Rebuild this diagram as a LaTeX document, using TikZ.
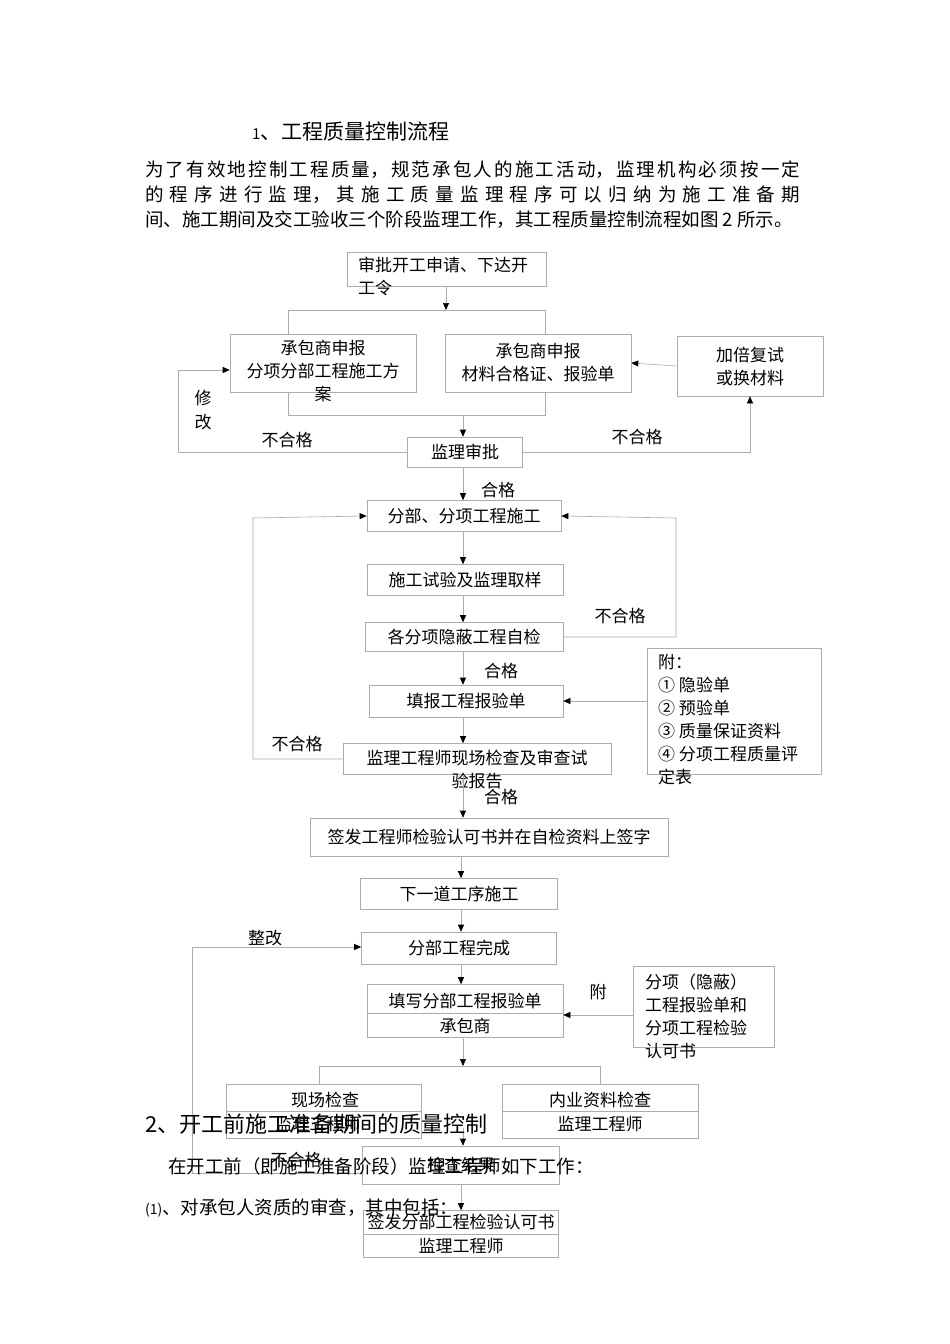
\documentclass[tikz,border=0pt]{standalone}
\usepackage{fontspec}
\setmainfont{Noto Sans CJK SC}
\XeTeXlinebreaklocale "zh"
\XeTeXlinebreakskip=0pt plus 4pt
\usetikzlibrary{arrows.meta}
\begin{document}
\begin{tikzpicture}[x=1pt,y=-1pt,
  bx/.style={draw=gray!65,line width=0.6pt,inner sep=0pt},
  t/.style={inner sep=0pt,font=\fontsize{17}{23}\selectfont,align=center},
  ln/.style={draw=gray!65,line width=0.6pt},
  ar/.style={ln,-{Triangle[length=7pt,width=6pt,fill=black,color=black]}}]
\useasboundingbox (0,0) rectangle (950,1344);
\fill[white] (0,0) rectangle (950,1344);
\node[inner sep=0pt,anchor=west,font=\fontsize{21}{24}\selectfont] (title) at (252,131) {{\fontsize{15}{18}\selectfont 1}、工程质量控制流程};
\node[inner sep=0pt,anchor=north west,text width=655pt,align=justify,font=\fontsize{18.5}{25}\selectfont] (para) at (145,161) {为了有效地控制工程质量，规范承包人的施工活动，监理机构必须按一定\linebreak 的程序进行监理，其施工质量监理程序可以归纳为施工准备期\linebreak \mbox{间、施工期间及交工验收三个阶段监理工作，其工程质量控制流程如图 2 所示。}};
% boxes
\draw[bx] (347,252) rectangle (546,286);
\node[t,anchor=north west,align=left] (At) at (358,257) {审批开工申请、下达开\\工令};
\node[bx,minimum width=186pt,minimum height=58pt] (B) at (323,363) {};
\node[t,anchor=north] (Bt) at (323,340) {承包商申报\\分项分部工程施工方\\案};
\node[bx,minimum width=186pt,minimum height=58pt] (C) at (538,363) {};
\node[t] (Ct) at (538,363) {承包商申报\\材料合格证、报验单};
\node[bx,minimum width=146pt,minimum height=60pt] (D) at (750,366) {};
\node[t] (Dt) at (750,366) {加倍复试\\或换材料};
\node[bx,minimum width=115pt,minimum height=30pt,t] (E) at (465,452) {监理审批};
\node[bx,minimum width=194pt,minimum height=31pt,t] (F) at (464,516) {分部、分项工程施工};
\node[bx,minimum width=196pt,minimum height=31pt,t] (G) at (465,580) {施工试验及监理取样};
\node[bx,minimum width=198pt,minimum height=29pt,t] (H) at (464,637) {各分项隐蔽工程自检};
\node[bx,minimum width=194pt,minimum height=32pt,t] (I) at (466,701) {填报工程报验单};
\node[bx,minimum width=174pt,minimum height=126pt] (J) at (734,711) {};
\node[t,anchor=north west,align=left] (Jt) at (658,654) {附：\\① 隐验单\\② 预验单\\③ 质量保证资料\\④ 分项工程质量评\\定表};
\node[bx,minimum width=268pt,minimum height=31pt] (K) at (477,759) {};
\node[t,anchor=north] (Kt) at (477,750) {监理工程师现场检查及审查试\\验报告};
\node[bx,minimum width=358pt,minimum height=38pt,t] (L) at (489,837) {签发工程师检验认可书并在自检资料上签字};
\node[bx,minimum width=197pt,minimum height=31pt,t] (M) at (459,894) {下一道工序施工};
\node[bx,minimum width=195pt,minimum height=32pt,t] (N) at (459,948) {分部工程完成};
\node[bx,minimum width=196pt,minimum height=53pt] (O) at (465,1011) {};
\draw[ln] (367,1013) -- (563,1013);
\node[t] at (465,1001) {填写分部工程报验单};
\node[t] at (465,1026) {承包商};
\node[bx,minimum width=141pt,minimum height=81pt] (P) at (704,1007) {};
\node[t,anchor=north west,align=left] (Pt) at (645,974) {分项（隐蔽）\\工程报验单和\\分项工程检验\\认可书};
\node[bx,minimum width=195pt,minimum height=54pt] (Q) at (324,1111) {};
\draw[ln] (227,1111) -- (422,1111);
\node[t] at (325,1100) {现场检查};
\node[t] at (318,1124) {监理工程师};
\node[bx,minimum width=196pt,minimum height=54pt] (R) at (600,1111) {};
\draw[ln] (502,1111) -- (698,1111);
\node[t] at (600,1100) {内业资料检查};
\node[t] at (600,1124) {监理工程师};
\node[bx,minimum width=197pt,minimum height=38pt,t] (S) at (461,1165) {检查结果};
\node[bx,minimum width=195pt,minimum height=47pt] (T) at (461,1234) {};
\draw[ln] (364,1234) -- (559,1234);
\node[t] at (461,1222) {签发分部工程检验认可书};
\node[t] at (461,1246) {监理工程师};
% connectors
\draw[ar] (446,286) -- (446,310);
\draw[ln] (B.north -| 288,0) |- (545,310) -- (C.north -| 545,0);
\draw[ln] (B.south -| 288,0) |- (545,415) -- (C.south -| 545,0);
\draw[ar] (463,415) -- (E.north -| 463,0);
\draw[ar] (D.west) -- (C.east);
\draw[ar] (E.west) -| (178,370) -- (B.west |- 0,370);
\draw[ar] (E.east) -| (D.south);
\draw[ar] (E.south -| 463,0) -- (F.north -| 463,0);
\draw[ar] (F.south -| 463,0) -- (G.north -| 463,0);
\draw[ar] (G.south -| 463,0) -- (H.north -| 463,0);
\draw[ar] (H.south -| 463,0) -- (I.north -| 463,0);
\draw[ar] (I.south -| 463,0) -- (K.north -| 463,0);
\draw[ar] (H.east) -| (676,518) -- (F.east);
\draw[ar] (J.west |- 0,701) -- (I.east);
\draw[ar] (K.west) -| (253,518) -- (F.west);
\draw[ar] (K.south -| 463,0) -- (L.north -| 463,0);
\draw[ar] (L.south -| 461,0) -- (M.north -| 461,0);
\draw[ar] (M.south -| 461,0) -- (N.north -| 461,0);
\draw[ar] (N.south -| 461,0) -- (O.north -| 461,0);
\draw[ar] (P.west |- 0,1015) -- (O.east |- 0,1015);
\draw[ar] (O.south -| 463,0) -- (463,1066);
\draw[ln] (Q.north -| 319,0) |- (600,1066) -- (R.north -| 600,0);
\draw[ar] (463,1128) -- (S.north -| 463,0);
\draw[ar] (S.west |- 0,1173) -| (192,947) -- (N.west |- 0,947);
\draw[ar] (S.south -| 461,0) -- (T.north -| 461,0);
% labels
\node[t] at (203,398) {修};
\node[t] at (203,422) {改};
\node[t] at (287,440) {不合格};
\node[t] at (637,437) {不合格};
\node[t] at (498,490) {合格};
\node[t] at (620,616) {不合格};
\node[t] at (501,671) {合格};
\node[t] at (297,744) {不合格};
\node[t] at (501,797) {合格};
\node[t] at (265,938) {整改};
\node[t] at (598,992) {附};
\node[t] at (296,1160) {不合格};
% overlapping body text
\node[inner sep=0pt,anchor=west,font=\fontsize{22}{24}\selectfont] at (145,1124) {2、开工前施工准备期间的质量控制};
\node[inner sep=0pt,anchor=west,font=\fontsize{18.5}{22}\selectfont] at (168,1166) {在开工前（即施工准备阶段）监理工程师如下工作：};
\node[inner sep=0pt,anchor=west,font=\fontsize{18.5}{22}\selectfont] at (145,1208) {{\fontsize{14}{16}\selectfont(1)}、对承包人资质的审查，其中包括：};
\end{tikzpicture}
\end{document}
